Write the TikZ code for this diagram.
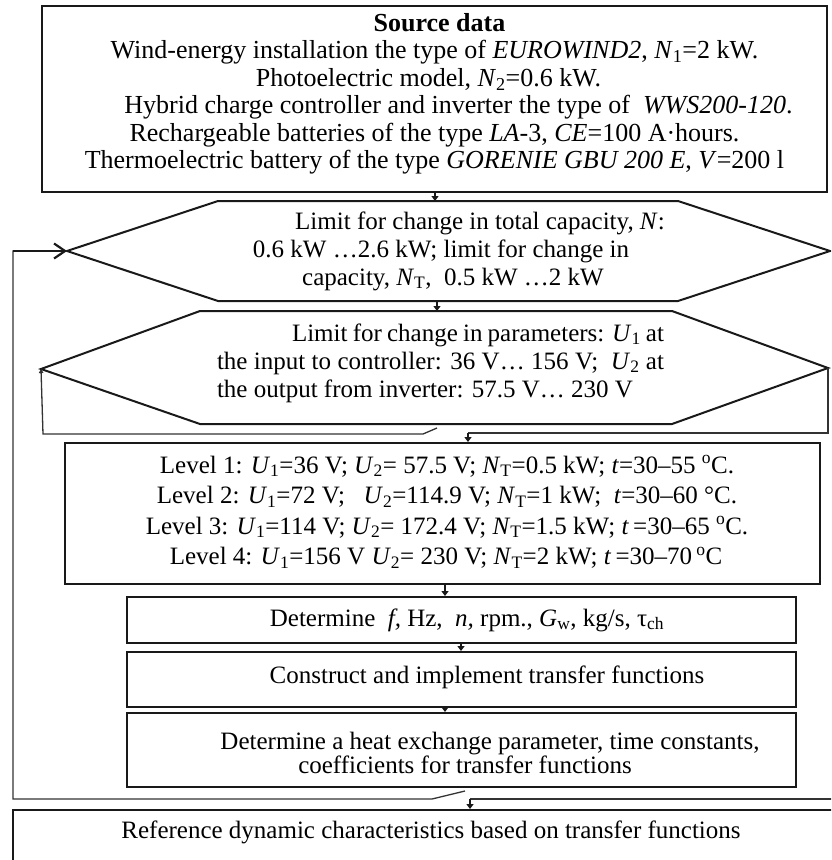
\documentclass[tikz,border=0pt]{standalone}
\usepackage{fontspec}
\setmainfont{Liberation Serif}
\usetikzlibrary{arrows.meta}
\newcommand\sbs[1]{\textsubscript{#1}}
\newcommand\dg{\textsuperscript{o}}
\newcommand\gap[1]{\rule{#1}{0pt}}
\begin{document}
\begin{tikzpicture}[x=1pt,y=-1pt,
  box/.style={draw=black!90, line width=2pt, inner sep=0pt},
  txt/.style={inner sep=0pt, align=center, font=\fontsize{25}{27.5}\selectfont},
  hexline/.style={draw=black!90, line width=2pt, line join=miter},
  fb/.style={draw=black!80, line width=1.3pt},
  arr/.style={draw=black!90, line width=2pt, -{Triangle[length=5pt,width=7pt]}},
]
\useasboundingbox (0,0) rectangle (831,860);
\clip (0,0) rectangle (831,860);

% ---------- boxes ----------
\node[box, minimum width=785pt, minimum height=186pt] (src) at (434.5,99) {};
\node[box, minimum width=755pt, minimum height=141pt] (lvl) at (442.5,513.5) {};
\node[box, minimum width=669pt, minimum height=46pt] (det1) at (461.5,620) {};
\node[box, minimum width=669pt, minimum height=55pt] (con) at (461.5,679.5) {};
\node[box, minimum width=669pt, minimum height=74pt] (det2) at (461.5,750) {};
\node[box, minimum width=840pt, minimum height=80pt, anchor=north west] (ref) at (12,809) {};

% ---------- hexagons ----------
\coordinate (h1w) at (67,251);
\coordinate (h1nw) at (218,201);
\coordinate (h1ne) at (678,201);
\coordinate (h1e) at (830,251);
\coordinate (h1se) at (678,301);
\coordinate (h1sw) at (218,301);
\draw[hexline] (h1w) -- (h1nw) -- (h1ne) -- (h1e) -- (h1se) -- (h1sw) -- cycle;

\coordinate (h2w) at (41,369);
\coordinate (h2nw) at (200,311);
\coordinate (h2ne) at (672,311);
\coordinate (h2e) at (828,368);
\coordinate (h2se) at (672,424);
\coordinate (h2sw) at (200,424);
\draw[hexline] (h2w) -- (h2nw) -- (h2ne) -- (h2e) -- (h2se) -- (h2sw) -- cycle;

% ---------- texts ----------
\node[txt, font=\fontsize{26}{27.5}\selectfont] (srct) at (434.5,94) {\gap{10pt}\textbf{Source data}\\
Wind-energy installation the type of \textit{EUROWIND2}, \textit{N}\sbs{1}=2 kW.\\
Photoelectric model, \textit{N}\sbs{2}=0.6 kW.\gap{12pt}\\
\gap{48pt}Hybrid charge controller and inverter the type of~ \textit{WWS200-120}.\\
Rechargeable batteries of the type \textit{LA}-3, \textit{CE}=100 A·hours.\\
Thermoelectric battery of the type \textit{GORENIE GBU 200 E}, \textit{V}=200 l};

\node[txt, font=\fontsize{25}{28}\selectfont] (h1t) at (447,251)
{\gap{66pt}Limit for change in total capacity, \textit{N}:\\
0.6 kW …2.6 kW; limit for change in\gap{12pt}\\
\gap{12pt}capacity, \textit{N}\sbs{T},~ 0.5 kW …2 kW};

\node[txt, font=\fontsize{25}{28}\selectfont] (h2t) at (440.5,363)
{\makebox[447pt][s]{\gap{75pt}Limit for change in parameters: \textit{U}\sbs{1} at}\\
\makebox[447pt][s]{the input to controller: 36 V… 156 V;~ \textit{U}\sbs{2} at}\\
\makebox[447pt][l]{the output from inverter: 57.5 V… 230 V}};

\node[txt, anchor=base] (lvl1) at (447,473)
{Level 1: \textit{U}\sbs{1}=36 V; \textit{U}\sbs{2}= 57.5 V; \textit{N}\sbs{T}=0.5 kW; \textit{t}=30–55 \dg C.};
\node[txt, anchor=base] (lvl2) at (447,503.5)
{Level 2: \textit{U}\sbs{1}=72 V;~~ \textit{U}\sbs{2}=114.9 V; \textit{N}\sbs{T}=1 kW;~ \textit{t}=30–60 °C.};
\node[txt, anchor=base] (lvl3) at (447,534)
{Level 3: \textit{U}\sbs{1}=114 V; \textit{U}\sbs{2}= 172.4 V; \textit{N}\sbs{T}=1.5 kW; \textit{t}\,=30–65 \dg C.};
\node[txt, anchor=base] (lvl4) at (446,564.5)
{Level 4: \textit{U}\sbs{1}=156 V \textit{U}\sbs{2}= 230 V; \textit{N}\sbs{T}=2 kW; \textit{t}\,=30–70\,\dg C};

\node[txt] (det1t) at (467,620) {Determine~ \textit{f,} Hz,~ \textit{n,} rpm., \textit{G}\sbs{w}, kg/s, τ\sbs{ch}};
\node[txt] (cont) at (487,677) {Construct and implement transfer functions};
\node[txt, font=\fontsize{25}{24}\selectfont] (det2t) at (465,753)
{\gap{50pt}Determine a heat exchange parameter, time constants,\\
coefficients for transfer functions};
\node[txt] (reft) at (431,832) {Reference dynamic characteristics based on transfer functions};

% ---------- feedback loops ----------
\coordinate (l1a) at (465,791);
\coordinate (l1b) at (432,799);
\coordinate (l1c) at (13,799);
\coordinate (l1d) at (13,251);
\draw[fb] (l1a) -- (l1b) -- (l1c) -- (l1d) -- (h1w);
\draw[black!90, line width=2.2pt, -{Straight Barb[length=11pt,width=15pt]}] (l1d) -- (h1w);
\coordinate (l1r) at (470,799);
\coordinate (l1end) at (835,799);
\draw[fb] (l1r) -- (l1end);

\coordinate (l2a) at (437,428);
\coordinate (l2b) at (423,434);
\coordinate (l2c) at (43,434);
\draw[fb, -{Triangle[length=4pt,width=4.5pt]}] (l2a) -- (l2b) -- (l2c) -- (h2w);
\coordinate (l2r) at (468,433);
\coordinate (l2rc) at (828,433);
\draw[fb] (l2r) -- (l2rc) -- (h2e);

% ---------- arrows ----------
\coordinate (ax1) at (435,0);
\coordinate (ax2) at (437,0);
\coordinate (ax4) at (445,0);
\coordinate (ax5) at (461,0);
\draw[arr] (src.south -| ax1) -- (h1nw -| ax1);
\draw[arr] (h1sw -| ax2) -- (h2nw -| ax2);
\draw[arr] (l2r) -- (lvl.north -| l2r);
\draw[arr] (lvl.south -| ax4) -- (det1.north -| ax4);
\draw[arr] (det1.south -| ax5) -- (con.north -| ax5);
\draw[arr] (con.south -| ax4) -- (det2.north -| ax4);
\draw[arr] (l1r) -- (ref.north -| l1r);
\end{tikzpicture}
\end{document}
